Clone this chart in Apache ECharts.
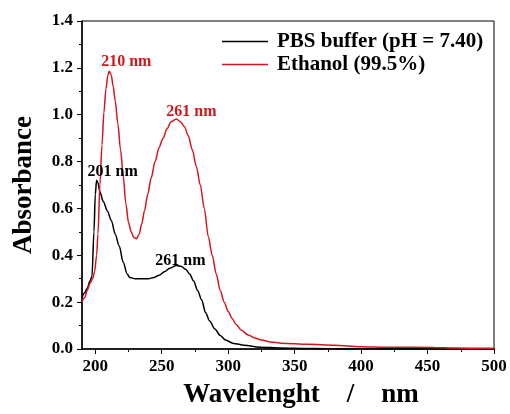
<!DOCTYPE html>
<html>
<head>
<meta charset="utf-8">
<script src="https://cdn.jsdelivr.net/npm/echarts@6/dist/echarts.min.js"></script>
<style>html,body{margin:0;padding:0;background:#fff}#c{width:510px;height:414px}</style>
</head>
<body>
<div id="c"></div>
<script>
const seriesNames = ['PBS buffer (pH = 7.40)', 'Ethanol (99.5%)'];
const pbsWl  = [190,192,194,196,197.5,199,200,201,202,203.5,206,209,212,215,218,221,224,226,230,235,240,244,248,252,256,261,265,268,271,274,277,280,283,286,290,294,298,304,312,324,340,360,400,450,500];
const pbsAbs = [0.22,0.24,0.26,0.29,0.31,0.50,0.66,0.72,0.71,0.67,0.63,0.59,0.55,0.49,0.44,0.37,0.32,0.305,0.30,0.30,0.30,0.305,0.315,0.33,0.345,0.356,0.352,0.34,0.32,0.29,0.25,0.21,0.155,0.12,0.085,0.058,0.038,0.024,0.016,0.008,0.004,0.002,0.001,0.0,0.0];
const ethWl  = [190,192,194,196,198,199.5,201,202,203.5,205,206.5,208,209.5,210.5,212,213.5,215,217,219,221,223,225,227,229,231,233,235,237,239.5,242,245,248,251,254,257,261,264,267,270,273,276,279,282,285,288,291,294,297,300,303,306,310,315,320,325,332,340,360,380,400,420,455,470,500];
const ethAbs = [0.20,0.22,0.25,0.28,0.30,0.33,0.40,0.49,0.70,0.87,1.01,1.11,1.17,1.186,1.17,1.12,1.06,0.96,0.85,0.74,0.62,0.54,0.50,0.476,0.471,0.49,0.535,0.59,0.66,0.73,0.80,0.86,0.90,0.94,0.97,0.982,0.97,0.95,0.91,0.85,0.78,0.70,0.60,0.48,0.40,0.32,0.25,0.20,0.16,0.13,0.105,0.08,0.06,0.047,0.038,0.03,0.025,0.02,0.016,0.01,0.008,0.006,0.004,0.003];
const xTicks = [200,250,300,350,400,450,500];
const xMinorTicks = [225,275,325,375,425,475];
const pbsPeaks = [{name:'201 nm', coord:[201,0.72]},{name:'261 nm', coord:[261,0.356]}];
const ethPeaks = [{name:'210 nm', coord:[210.5,1.186]},{name:'261 nm', coord:[261,0.982]}];

const FONT = "'Times New Roman', 'Liberation Serif', serif";
const RED = '#d4161c';
const chart = echarts.init(document.getElementById('c'), null, {renderer:'canvas'});
function pairs(w,a){return w.map((x,i)=>[x,a[i]]);}
const pbsOffsets = [[16,-8],[4,-5]];
const ethOffsets = [[17,-9],[15,-7]];
function mp(peaks, offsets, color){
  return {
    symbol:'circle', symbolSize:1, itemStyle:{color:'rgba(0,0,0,0)'},
    label:{show:true, position:'inside', formatter:'{b}', color:color, fontFamily:FONT, fontWeight:'bold', fontSize:16},
    data: peaks.map((p,i)=>({name:p.name, coord:p.coord, label:{offset:offsets[i]}}))
  };
}
chart.setOption({
  animation:false,
  backgroundColor:'#fff',
  grid:{left:82, right:16, top:21, bottom:62, show:true, borderColor:'#000', borderWidth:1},
  legend:{
    orient:'vertical', left:217, top:26, itemWidth:46, itemHeight:1.5, itemGap:2,
    data:seriesNames.map(n=>({name:n, icon:'rect'})),
    textStyle:{fontFamily:FONT, fontWeight:'bold', fontSize:21, color:'#000', padding:[0,0,0,4]}
  },
  xAxis:[{
    type:'value', min:190, max:500, position:'bottom',
    name:'Wavelenght    /    nm', nameLocation:'middle', nameGap:33,
    nameTextStyle:{fontFamily:FONT, fontWeight:'bold', fontSize:27, color:'#000', padding:[0,0,0,26]},
    axisLine:{show:true, lineStyle:{color:'#000', width:1.5}},
    axisTick:{show:true, inside:false, length:5, customValues:xTicks, lineStyle:{color:'#000'}},
    axisLabel:{customValues:xTicks, fontFamily:FONT, fontWeight:'bold', fontSize:17, color:'#000', margin:9},
    splitLine:{show:false}
  },{
    type:'value', min:190, max:500, position:'bottom',
    axisLine:{show:false},
    axisTick:{show:true, inside:false, length:3, customValues:xMinorTicks, lineStyle:{color:'#000'}},
    axisLabel:{show:false},
    splitLine:{show:false}
  }],
  yAxis:{
    type:'value', min:0, max:1.4, interval:0.2,
    name:'Absorbance', nameLocation:'middle', nameGap:44,
    nameTextStyle:{fontFamily:FONT, fontWeight:'bold', fontSize:27, color:'#000'},
    axisLine:{show:true, lineStyle:{color:'#000', width:1.5}},
    axisTick:{show:true, inside:false, length:5, lineStyle:{color:'#000'}},
    minorTick:{show:true, splitNumber:2, length:3, lineStyle:{color:'#000'}},
    axisLabel:{formatter:v=>v.toFixed(1), fontFamily:FONT, fontWeight:'bold', fontSize:17, color:'#000', margin:9},
    splitLine:{show:false}
  },
  series:[{
    name:seriesNames[0], type:'line', data:pairs(pbsWl,pbsAbs), showSymbol:false, symbol:'none',
    smooth:0.3, smoothMonotone:'x', lineStyle:{color:'#000', width:1.5}, itemStyle:{color:'#000'},
    markPoint: mp(pbsPeaks, pbsOffsets, '#000')
  },{
    name:seriesNames[1], type:'line', data:pairs(ethWl,ethAbs), showSymbol:false, symbol:'none',
    smooth:0.3, smoothMonotone:'x', lineStyle:{color:RED, width:1.5}, itemStyle:{color:RED},
    markPoint: mp(ethPeaks, ethOffsets, RED)
  }]
});
</script>
</body>
</html>
